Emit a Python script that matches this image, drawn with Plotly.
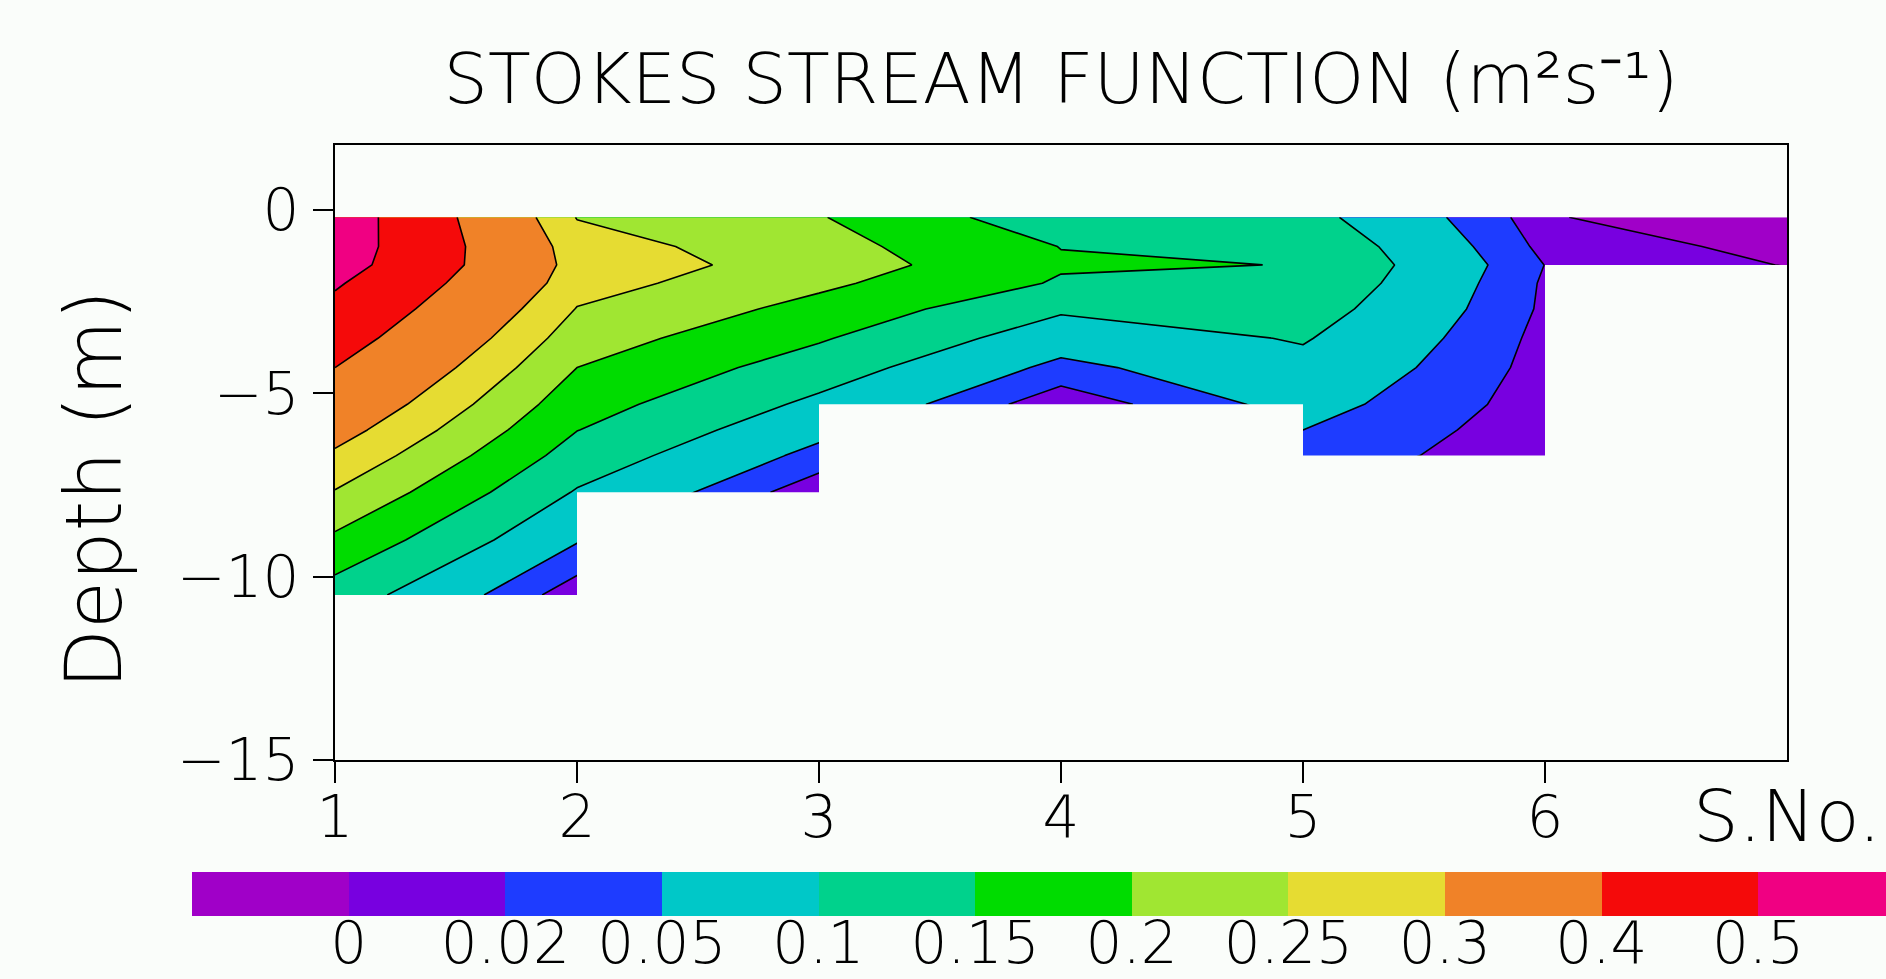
import plotly.graph_objects as go

# ---------------- data ----------------
stations = [1, 2, 3, 4, 5, 6, 7]                      # S.No.
depths = [-0.2, -1.0, -1.5, -2.0, -2.7, -3.5, -4.3,
          -5.3, -6.0, -6.7, -7.7, -9.0, -10.5]        # m
# Stokes stream function (m^2 s^-1), rows = depths, cols = stations
psi = [
    [0.555, 0.248, 0.203, 0.118, 0.117, 0.004, -0.036],
    [0.550, 0.272, 0.218, 0.149, 0.140, 0.012, -0.0065],
    [0.540, 0.278, 0.228, 0.155, 0.149, 0.0195, -0.001],
    [0.510, 0.270, 0.210, 0.145, 0.140, 0.016, None],
    [0.476, 0.248, 0.184, 0.107, 0.123, 0.015, None],
    [0.438, 0.224, 0.155, 0.072, 0.104, 0.011, None],
    [0.400, 0.200, 0.125, 0.039, 0.086, 0.009, None],
    [0.355, 0.171, 0.089, 0.001, 0.065, 0.006, None],
    [0.323, 0.151, 0.063, None, 0.050, 0.003, None],
    [0.291, 0.129, 0.037, None, 0.035, 0.004, None],
    [0.247, 0.096, 0.001, None, None, None, None],
    [0.190, 0.053, None, None, None, None, None],
    [0.127, 0.002, None, None, None, None, None],
]
# sea-bed depth for each interval between stations
bottom = [-10.5, -7.7, -5.3, -5.3, -6.7, -1.5]

levels = [0, 0.02, 0.05, 0.1, 0.15, 0.2, 0.25, 0.3, 0.4, 0.5]
level_labels = ["0", "0.02", "0.05", "0.1", "0.15", "0.2", "0.25", "0.3", "0.4", "0.5"]
colors = ["#a000c8", "#7800e0", "#1e3cff", "#00c8c8", "#00d28c", "#00dc00",
          "#a0e632", "#e6dc32", "#f08228", "#f50a0a", "#f00082"]

xticks = [1, 2, 3, 4, 5, 6]
yticks = [0, -5, -10, -15]

FONT = "DejaVu Sans"
BG = "#fafdfa"
W, H = 1886, 979

fig = go.Figure()

# base band (below the lowest level): '<' fills the region that is NOT below value
fig.add_trace(go.Contour(
    x=stations, y=depths, z=psi,
    contours=dict(type="constraint", operation="<", value=-1),
    fillcolor=colors[0], line=dict(width=0, smoothing=0),
    showscale=False, hoverinfo="skip", showlegend=False))

# one filled band per level, stacked (fills z above each level)
for lev, col in zip(levels, colors[1:]):
    fig.add_trace(go.Contour(
        x=stations, y=depths, z=psi,
        contours=dict(type="constraint", operation="<", value=lev),
        fillcolor=col, line=dict(color="black", width=1.6, smoothing=0),
        showscale=False, hoverinfo="skip", showlegend=False))

# land mask below the sea bed
mx, my = [stations[0]], [bottom[0]]
for i, b in enumerate(bottom):
    mx += [stations[i], stations[i + 1]]
    my += [b, b]
mx += [stations[-1], stations[0], stations[0]]
my += [yticks[-1], yticks[-1], bottom[0]]
fig.add_trace(go.Scatter(x=mx, y=my, mode="lines", fill="toself",
                         fillcolor=BG, line=dict(width=0, color=BG),
                         hoverinfo="skip", showlegend=False))

# colour key (drawn as a strip of cells)
key_idx = list(range(len(colors)))
cs = []
n = len(colors)
for k, c in enumerate(colors):
    cs.append([k / n, c])
    cs.append([(k + 1) / n, c])
fig.add_trace(go.Heatmap(z=[key_idx], x=key_idx, y=[0], colorscale=cs,
                         zmin=-0.5, zmax=n - 0.5, showscale=False,
                         hoverinfo="skip", xaxis="x2", yaxis="y2"))

# ---------------- layout ----------------
px_l, px_r, px_t, px_b = 335, 1787, 145, 760
cb_l, cb_t, cb_b, cb_w = 192, 872, 916, 156.6

axis_common = dict(showline=True, linecolor="black", linewidth=2, mirror=True,
                   ticks="outside", tickcolor="black", tickwidth=1.5,
                   showgrid=False, zeroline=False, automargin=False,
                   tickfont=dict(family=FONT, size=58, color="black", weight=200))

fig.update_layout(
    width=W, height=H,
    margin=dict(l=0, r=0, t=0, b=0, pad=0, autoexpand=False),
    paper_bgcolor=BG, plot_bgcolor=BG,
    font=dict(family=FONT, color="black"),
    title=dict(text="STOKES STREAM FUNCTION (m²s⁻¹)", automargin=False,
               x=1061 / W, xanchor="center", y=1 - 78 / H, yanchor="middle",
               font=dict(family=FONT, size=70, color="black", weight=200)),
    xaxis=dict(domain=[px_l / W, px_r / W], range=[1, 7], anchor="y",
               tickvals=xticks, ticklen=21, ticklabelstandoff=-16, **axis_common),
    yaxis=dict(domain=[1 - px_b / H, 1 - px_t / H], range=[-15, 1.77], anchor="x",
               tickvals=yticks, ticklen=20, ticklabelstandoff=2, **axis_common),
    xaxis2=dict(domain=[cb_l / W, 1.0], range=[-0.5, -0.5 + (W - cb_l) / cb_w],
                anchor="y2", tickvals=[k + 0.5 for k in range(len(levels))],
                ticktext=level_labels, ticks="", showline=False, showgrid=False,
                zeroline=False, ticklabelstandoff=-12, automargin=False,
                tickfont=dict(family=FONT, size=58, color="black", weight=200)),
    yaxis2=dict(domain=[1 - cb_b / H, 1 - cb_t / H], range=[-0.5, 0.5],
                anchor="x2", visible=False, automargin=False),
    annotations=[
        dict(text="Depth (m)", x=94 / W, y=1 - 490 / H, xref="paper", yref="paper",
             textangle=-90, showarrow=False, xanchor="center", yanchor="middle",
             font=dict(family=FONT, size=78, color="black", weight=200)),
        dict(text="S.No.", x=7, y=1 - 816 / H, xref="x", yref="paper",
             showarrow=False, xanchor="center", yanchor="middle",
             font=dict(family=FONT, size=72, color="black", weight=200)),
    ],
)

fig.write_html("out.html")
